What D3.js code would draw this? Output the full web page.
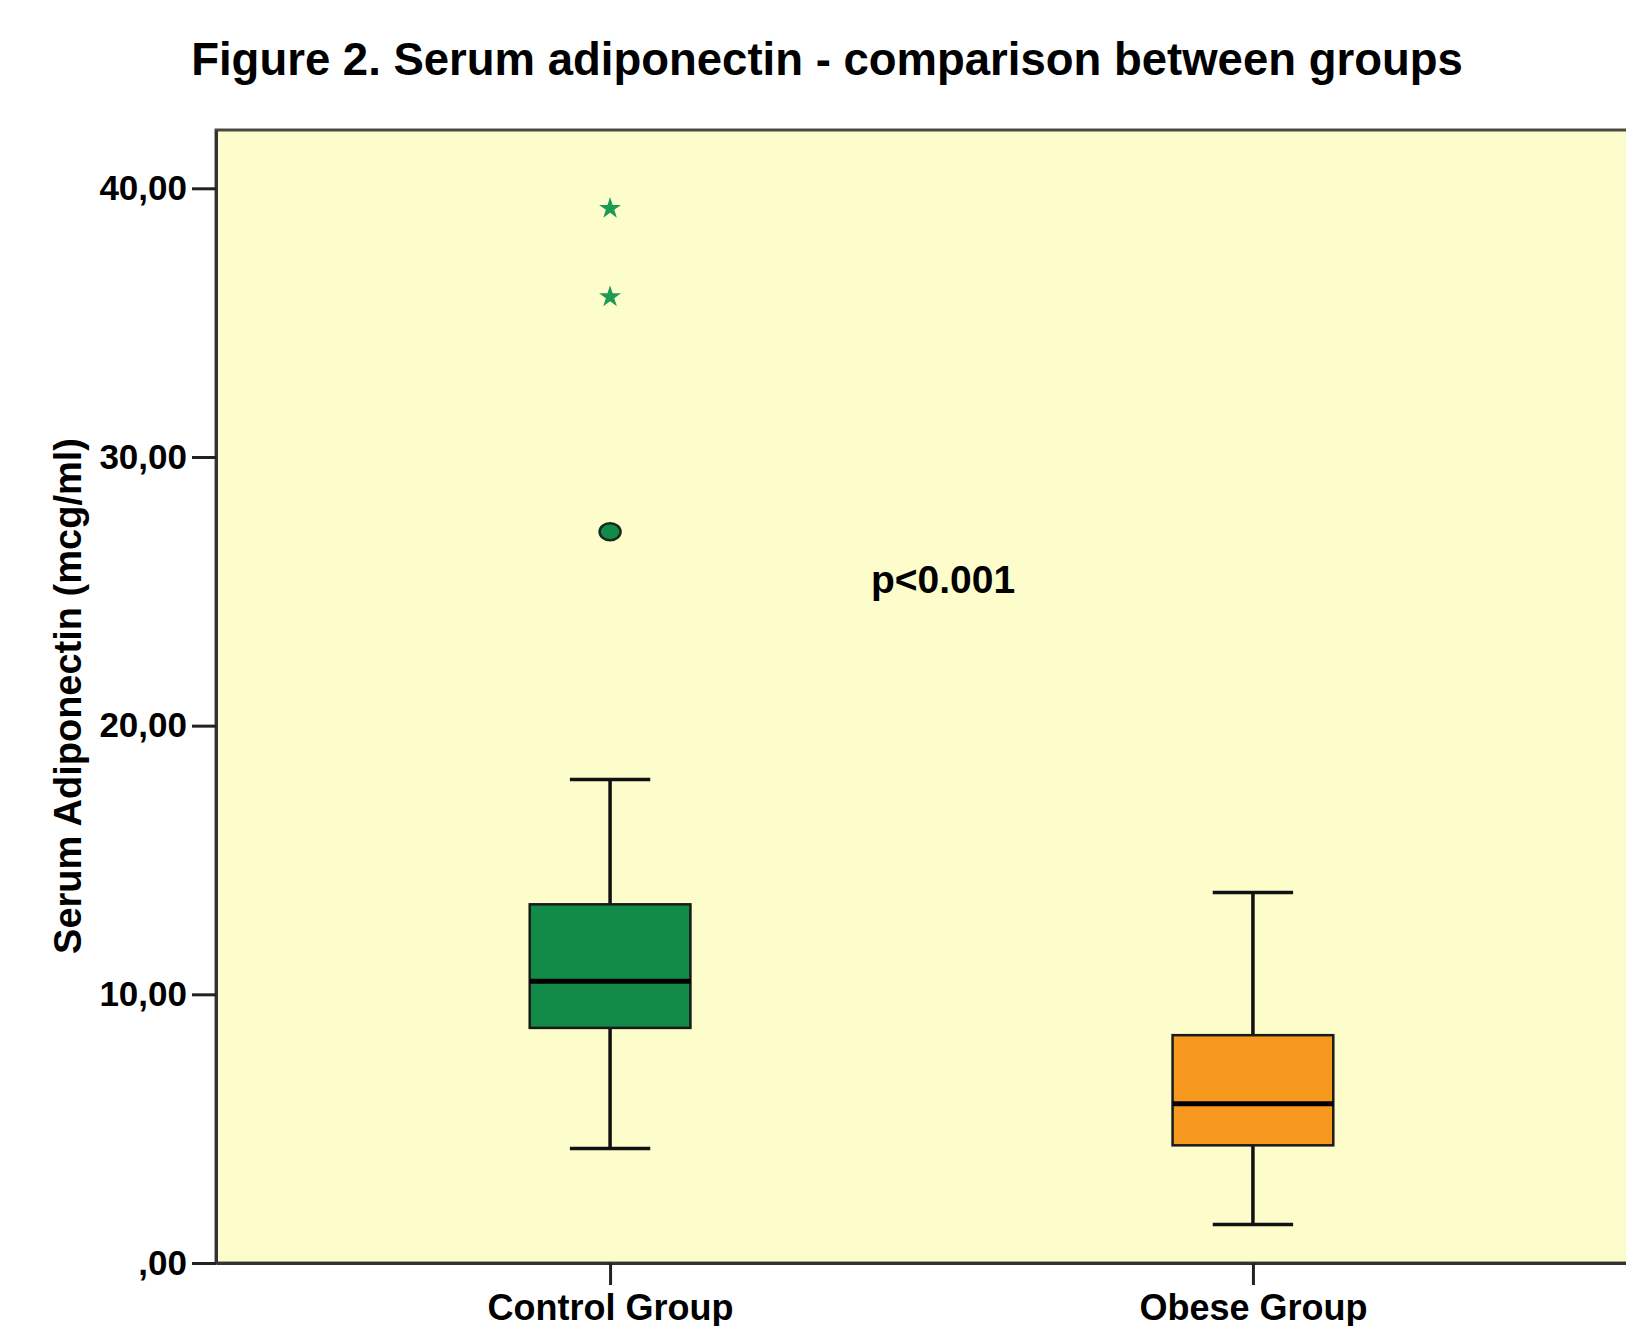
<!DOCTYPE html>
<html>
<head>
<meta charset="utf-8">
<script src="https://cdn.jsdelivr.net/npm/d3@7"></script>
<style>
  html, body { margin: 0; padding: 0; background: #ffffff; }
  svg { display: block; }
  text { font-family: "Liberation Sans", Arial, sans-serif; font-weight: bold; fill: #000; }
</style>
</head>
<body>
<svg id="chart" width="1626" height="1326"></svg>
<script>
// ---- data ----
const groups = ["Control Group", "Obese Group"];
const whiskerLow = [4.26, 1.43];
const q1 = [8.75, 4.38];
const median = [10.49, 5.93];
const q3 = [13.35, 8.48];
const whiskerHigh = [18.0, 13.79];
const boxColors = ["#118B47", "#F7981F"];

const outlierGroup = ["Control Group", "Control Group", "Control Group"];
const outlierValue = [27.22, 35.96, 39.25];
const outlierKind = ["circle", "star", "star"];

const yTickValues = [0, 10, 20, 30, 40];
const yTickLabels = [",00", "10,00", "20,00", "30,00", "40,00"];

const titleText = "Figure 2. Serum adiponectin - comparison between groups";
const yAxisTitle = "Serum Adiponectin (mcg/ml)";
const annotation = "p<0.001";

// ---- layout ----
const svg = d3.select("#chart");
const plot = { left: 216, top: 130, right: 1647, bottom: 1263 };

const y = d3.scaleLinear().domain([0, 42.17]).range([plot.bottom, plot.top]);
const x = d3.scalePoint().domain(groups).range([plot.left, plot.right]).padding(0.613);
const step = x.step();
const boxW = step * 0.25;
const capW = boxW / 2;

// plot background
svg.append("rect")
  .attr("x", plot.left).attr("y", plot.top)
  .attr("width", plot.right - plot.left).attr("height", plot.bottom - plot.top)
  .attr("fill", "#FDFDCC")
  .attr("stroke", "#4a4a44").attr("stroke-width", 3);

// title
svg.append("text")
  .attr("x", 827).attr("y", 75)
  .attr("text-anchor", "middle")
  .style("font-size", "45.5px")
  .text(titleText);

// y axis
const yAxis = d3.axisLeft(y)
  .tickValues(yTickValues)
  .tickFormat((d, i) => yTickLabels[i])
  .tickSize(24).tickSizeOuter(0).tickPadding(5);
const gy = svg.append("g").attr("transform", `translate(${plot.left},0)`).call(yAxis);
gy.select(".domain").attr("stroke", "#333").attr("stroke-width", 3);
gy.selectAll(".tick line").attr("stroke", "#222").attr("stroke-width", 3);
gy.selectAll(".tick text").style("font-size", "35px").style("font-family", '"Liberation Sans", Arial, sans-serif').style("font-weight", "bold");

// x axis
const xAxis = d3.axisBottom(x).tickSize(22).tickSizeOuter(0).tickPadding(9);
const gx = svg.append("g").attr("transform", `translate(0,${plot.bottom})`).call(xAxis);
gx.select(".domain").attr("stroke", "#333").attr("stroke-width", 3);
gx.selectAll(".tick line").attr("stroke", "#222").attr("stroke-width", 3);
gx.selectAll(".tick text").style("font-size", "36px").style("font-family", '"Liberation Sans", Arial, sans-serif').style("font-weight", "bold");

// y axis title
svg.append("text")
  .attr("transform", `translate(81, 696) rotate(-90)`)
  .attr("text-anchor", "middle")
  .style("font-size", "38px")
  .text(yAxisTitle);

// boxes
const boxes = svg.append("g");
groups.forEach((g, i) => {
  const cx = x(g);
  boxes.append("line").attr("x1", cx).attr("x2", cx)
    .attr("y1", y(whiskerHigh[i])).attr("y2", y(q3[i]))
    .attr("stroke", "#111").attr("stroke-width", 3.5);
  boxes.append("line").attr("x1", cx).attr("x2", cx)
    .attr("y1", y(q1[i])).attr("y2", y(whiskerLow[i]))
    .attr("stroke", "#111").attr("stroke-width", 3.5);
  [whiskerHigh[i], whiskerLow[i]].forEach(v => {
    boxes.append("line").attr("x1", cx - capW / 2).attr("x2", cx + capW / 2)
      .attr("y1", y(v)).attr("y2", y(v))
      .attr("stroke", "#111").attr("stroke-width", 3.5);
  });
  boxes.append("rect")
    .attr("x", cx - boxW / 2).attr("width", boxW)
    .attr("y", y(q3[i])).attr("height", y(q1[i]) - y(q3[i]))
    .attr("fill", boxColors[i])
    .attr("stroke", "#1a1a1a").attr("stroke-width", 2.5);
  boxes.append("line").attr("x1", cx - boxW / 2).attr("x2", cx + boxW / 2)
    .attr("y1", y(median[i])).attr("y2", y(median[i]))
    .attr("stroke", "#000").attr("stroke-width", 5);
});

// outliers
const out = svg.append("g");
outlierValue.forEach((v, i) => {
  const cx = x(outlierGroup[i]);
  const cy = y(v);
  if (outlierKind[i] === "circle") {
    out.append("ellipse").attr("cx", cx).attr("cy", cy)
      .attr("rx", 10.5).attr("ry", 8.5)
      .attr("fill", "#118B47").attr("stroke", "#1c2a1c").attr("stroke-width", 2.5);
  } else {
    out.append("path")
      .attr("d", d3.symbol().type(d3.symbolStar).size(150)())
      .attr("transform", `translate(${cx},${cy})`)
      .attr("fill", "#1F9A55");
  }
});

// annotation
svg.append("text")
  .attr("x", 871).attr("y", 593)
  .style("font-size", "39px")
  .text(annotation);
</script>
</body>
</html>
